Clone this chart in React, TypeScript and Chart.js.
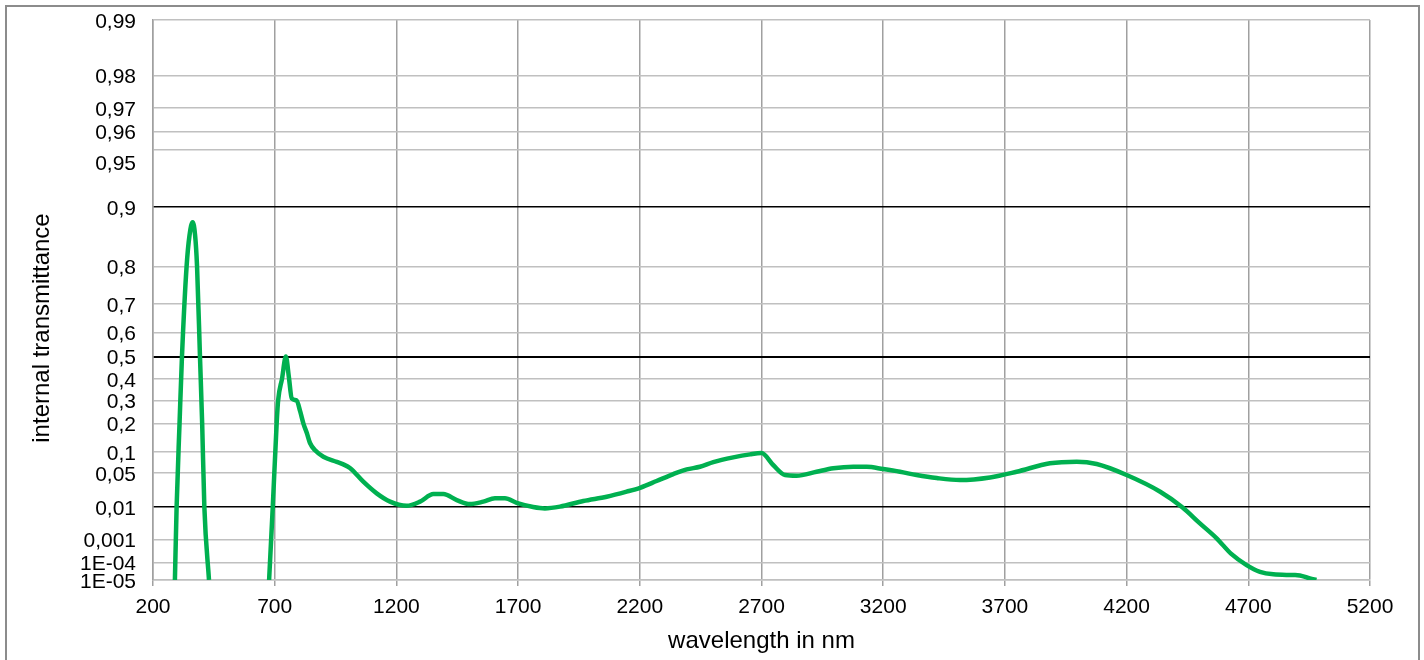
import React, { useEffect, useRef } from "react";
import { Chart, registerables } from "chart.js";

Chart.register(...registerables);

// wavelength in nm
const wavelengths = [
  290, 297, 309, 319, 338, 350, 363, 373, 381, 393, 402, 411, 430,
  550,
  677, 692, 708, 714, 730, 746, 758, 770, 790, 805, 818, 832, 845, 866, 900, 955, 982,
  1009, 1064, 1119, 1174, 1242, 1297, 1352, 1393, 1448, 1502, 1557, 1605, 1646, 1694,
  1762, 1810, 1872, 1968, 2064, 2146, 2201, 2269, 2338, 2393, 2447, 2502, 2584, 2653,
  2700, 2748, 2797, 2844, 2926, 2995, 3077, 3132, 3200, 3269, 3337, 3420, 3515, 3639,
  3748, 3885, 3995, 4077, 4200, 4338, 4430, 4500, 4570, 4630, 4693, 4748, 4803, 4885,
  4912, 4953, 4980,
];

// internal transmittance (null = no data)
const transmittance: (number | null)[] = [
  1e-5, 0.01, 0.2, 0.5, 0.8, 0.86, 0.88, 0.86, 0.8, 0.5, 0.2, 0.01, 1e-5,
  null,
  1e-5, 0.01, 0.2, 0.3, 0.4, 0.5, 0.41, 0.31, 0.3, 0.25, 0.2, 0.163, 0.128, 0.105, 0.087, 0.074, 0.068,
  0.06, 0.0353, 0.0208, 0.0136, 0.0108, 0.0136, 0.0201, 0.0201, 0.0148, 0.0119, 0.0136, 0.0162, 0.0162, 0.0128,
  0.0101, 0.0093, 0.0103, 0.0141, 0.0176, 0.0226, 0.0271, 0.0363, 0.048, 0.057, 0.0626, 0.0734, 0.0853, 0.0934,
  0.097, 0.0665, 0.0462, 0.045, 0.0523, 0.0593, 0.0626, 0.0626, 0.0577, 0.0523, 0.0462, 0.041, 0.0379, 0.0421,
  0.0523, 0.0704, 0.0742, 0.0687, 0.0462, 0.0225, 0.0098, 0.0036, 0.0011, 0.00025, 7.2e-5, 3.1e-5, 2.2e-5, 2.0e-5,
  1.9e-5, 1.26e-5, 1e-5,
];

const yTickValues = [
  1e-5, 1e-4, 0.001, 0.01, 0.05, 0.1, 0.2, 0.3, 0.4, 0.5, 0.6, 0.7, 0.8, 0.9, 0.95, 0.96, 0.97, 0.98, 0.99,
];
const yTickLabels = [
  "1E-05", "1E-04", "0,001", "0,01", "0,05", "0,1", "0,2", "0,3", "0,4", "0,5", "0,6", "0,7", "0,8", "0,9",
  "0,95", "0,96", "0,97", "0,98", "0,99",
];
const strongLines = [0.9, 0.5, 0.01];

const xMin = 200;
const xMax = 5200;
const xStep = 500;

const xTitle = "wavelength in nm";
const yTitle = "internal transmittance";

// transmittance scale: -ln(-ln(T))
const tf = (t: number) => -Math.log(-Math.log(t));

const FONT = '"Liberation Sans", Arial, Helvetica, sans-serif';

export default function App() {
  const ref = useRef<HTMLCanvasElement | null>(null);

  useEffect(() => {
    if (!ref.current) return;
    const isStrong = (v: number) => strongLines.some((s) => Math.abs(tf(s) - v) < 1e-6);
    const yTitlePlugin = {
      id: "yTitlePlugin",
      afterDraw(chart: any) {
        const ctx = chart.ctx;
        ctx.save();
        ctx.translate(42, 328);
        ctx.rotate(-Math.PI / 2);
        ctx.font = `24px ${FONT}`;
        ctx.fillStyle = "#000";
        ctx.textAlign = "center";
        ctx.textBaseline = "middle";
        ctx.fillText(yTitle, 0, 0);
        ctx.restore();
      },
    };
    const chart = new Chart(ref.current, {
      type: "line",
      data: {
        datasets: [
          {
            data: wavelengths.map((x, i) => ({
              x,
              y: transmittance[i] === null ? null : tf(transmittance[i] as number),
            })) as any,
            borderColor: "#00b050",
            borderWidth: 4.5,
            pointRadius: 0,
            cubicInterpolationMode: "monotone",
            spanGaps: false,
            fill: false,
          },
        ],
      },
      plugins: [yTitlePlugin],
      options: {
        animation: false,
        responsive: false,
        layout: { padding: { left: 0, top: 20, right: 54, bottom: 0 } },
        plugins: {
          legend: { display: false },
          tooltip: { enabled: false },
        },
        scales: {
          x: {
            type: "linear",
            min: xMin,
            max: xMax,
            afterFit: (scale: any) => {
              scale.height = 80;
            },
            ticks: {
              stepSize: xStep,
              color: "#000",
              font: { family: FONT, size: 21 },
              padding: 9,
              maxRotation: 0,
              autoSkip: false,
              callback: (v: any) => String(v),
            },
            grid: {
              color: "#a0a0a0",
              lineWidth: 1.5,
              drawTicks: true,
              tickLength: 6,
              tickColor: "#a0a0a0",
            },
            border: { display: true, color: "#c0c0c0", width: 1.5 },
            title: {
              display: true,
              text: xTitle,
              color: "#000",
              font: { family: FONT, size: 24 },
              padding: { top: 0, bottom: 4 },
            },
          },
          y: {
            type: "linear",
            min: tf(1e-5),
            max: tf(0.99),
            afterFit: (scale: any) => {
              scale.width = 153;
              scale.paddingTop = 0;
              scale.paddingBottom = 0;
            },
            afterBuildTicks: (scale: any) => {
              scale.ticks = yTickValues.map((v) => ({ value: tf(v) }));
            },
            ticks: {
              autoSkip: false,
              color: "#000",
              font: { family: FONT, size: 21 },
              padding: 17,
              labelOffset: 2,
              callback: (_v: any, i: number) => {
                const l = yTickLabels[i];
                return l === "0,95" ? ["", l] : l;
              },
            },
            grid: {
              drawTicks: false,
              tickLength: 0,
              color: (c: any) => (c.tick && isStrong(c.tick.value) ? "#000" : "#c0c0c0"),
              lineWidth: (c: any) =>
                c.tick && Math.abs(c.tick.value - tf(0.5)) < 1e-6 ? 2 : 1.5,
            },
            border: { display: true, color: "#a0a0a0", width: 1.5 },
          },
        },
      },
    });
    return () => chart.destroy();
  }, []);

  return (
    <div
      style={{
        position: "absolute",
        left: 0,
        top: 0,
        width: 1424,
        height: 660,
        overflow: "hidden",
        background: "#fff",
      }}
    >
      <canvas ref={ref} width={1424} height={660} style={{ display: "block" }} />
      <div
        style={{
          position: "absolute",
          left: 5,
          top: 5,
          width: 1411,
          height: 700,
          border: "2px solid #8c8c8c",
          pointerEvents: "none",
        }}
      />
    </div>
  );
}
